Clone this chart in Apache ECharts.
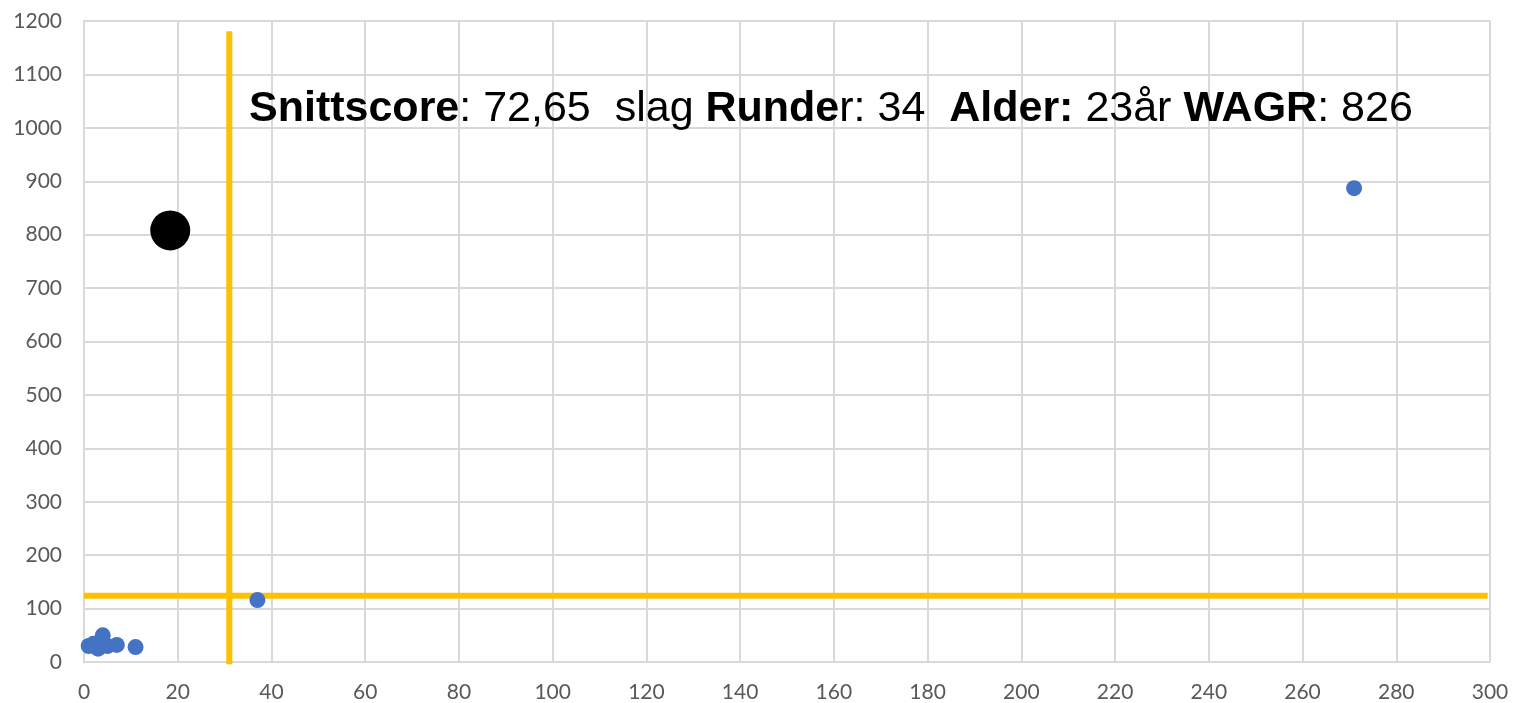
<!DOCTYPE html>
<html>
<head>
<meta charset="utf-8">
<script src="https://cdn.jsdelivr.net/npm/echarts@6/dist/echarts.min.js"></script>
<style>
  html, body { margin: 0; padding: 0; background: #fff; }
  #chart { width: 1516px; height: 703px; }
</style>
</head>
<body>
<div id="chart"></div>
<script>
// spillere (x, y)
const players = [
  [1, 30], [2, 34], [3, 25], [4, 50], [5, 30], [7, 32], [11, 28],
  [37, 116], [271, 887]
];
// utvalgt spiller
const selected = [[18.4, 808]];
// snitt-linjer
const vLine = [[31, -4], [31, 1181]];
const hLine = [[0, 124], [299.5, 124]];

const xMax = 300, xStep = 20;
const yMax = 1200, yStep = 100;

const chart = echarts.init(document.getElementById('chart'));

const axisFont = {
  fontFamily: 'Lato',
  fontSize: 21,
  color: '#595959',
  formatter: v => String(v)
};

chart.setOption({
  backgroundColor: '#fff',
  animation: false,
  title: {
    left: 244,
    top: 83,
    text: '{b|Snittscore}{n|: 72,65  slag }{b|Runde}{n|r: 34  }{b|Alder:}{n| 23år }{b|WAGR}{n|: 826}',
    textStyle: {
      fontWeight: 'normal',
      rich: {
        b: { fontFamily: 'Liberation Sans', fontSize: 43, fontWeight: 'bold', color: '#000' },
        n: { fontFamily: 'Liberation Sans', fontSize: 43, fontWeight: 'normal', color: '#000' }
      }
    }
  },
  grid: {
    left: 84,
    right: 26,
    top: 21,
    bottom: 41
  },
  xAxis: {
    type: 'value',
    min: 0,
    max: xMax,
    interval: xStep,
    axisLine: { show: true, lineStyle: { color: '#d9d9d9', width: 2 } },
    axisTick: { show: false },
    axisLabel: { ...axisFont, margin: 20 },
    splitLine: { show: true, lineStyle: { color: '#d9d9d9', width: 2 } }
  },
  yAxis: {
    type: 'value',
    min: 0,
    max: yMax,
    interval: yStep,
    axisLine: { show: true, lineStyle: { color: '#d9d9d9', width: 2 } },
    axisTick: { show: false },
    axisLabel: { ...axisFont, margin: 22 },
    splitLine: { show: true, lineStyle: { color: '#d9d9d9', width: 2 } }
  },
  series: [
    {
      type: 'line',
      data: vLine,
      clip: false,
      symbol: 'none',
      lineStyle: { color: '#FFC000', width: 6 },
      z: 3
    },
    {
      type: 'line',
      data: hLine,
      clip: false,
      symbol: 'none',
      lineStyle: { color: '#FFC000', width: 6 },
      z: 3
    },
    {
      type: 'scatter',
      data: players,
      symbolSize: 16,
      itemStyle: { color: '#4472C4', opacity: 1 },
      z: 4
    },
    {
      type: 'scatter',
      data: selected,
      symbolSize: 40,
      itemStyle: { color: '#000', opacity: 1 },
      z: 5
    }
  ]
});

window.addEventListener('resize', () => chart.resize());
</script>
</body>
</html>
